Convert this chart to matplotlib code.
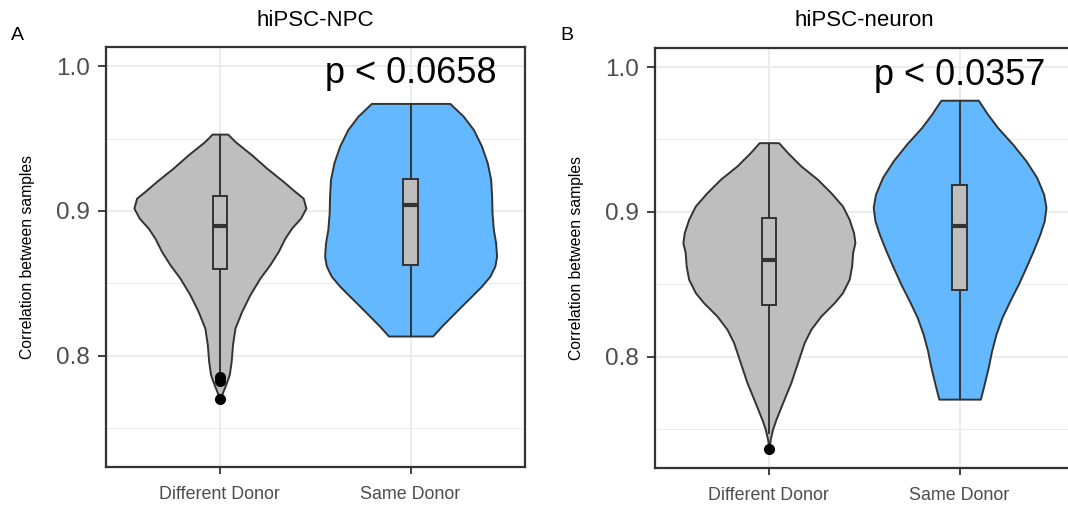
import matplotlib
matplotlib.use("Agg")
import matplotlib.pyplot as plt
from matplotlib.patches import Rectangle

plt.rcParams['font.family'] = ['Liberation Sans', 'DejaVu Sans']

# Categories and labels
CATEGORIES = ["Different Donor", "Same Donor"]
PANEL_TITLES = ["hiPSC-NPC", "hiPSC-neuron"]
PANEL_TAGS = ["A", "B"]
P_LABELS = ["p < 0.0658", "p < 0.0357"]
Y_TICKS = [0.8, 0.9, 1.0]
Y_MINOR = [0.75, 0.85, 0.95]

# Violin outlines: correlation value, half width (x units)
NPC_DIFF_Y = [0.7702, 0.7729, 0.7798, 0.7868, 0.7960, 0.8075, 0.8190, 0.8305,
              0.8420, 0.8536, 0.8628, 0.8720, 0.8812, 0.8881, 0.8950, 0.9019,
              0.9088, 0.9135, 0.9204, 0.9296, 0.9388, 0.9480, 0.9531]
NPC_DIFF_W = [0.0, 0.009, 0.030, 0.049, 0.059, 0.066, 0.079, 0.114,
              0.157, 0.210, 0.262, 0.306, 0.341, 0.376, 0.423, 0.451,
              0.437, 0.393, 0.332, 0.245, 0.166, 0.079, 0.041]
NPC_SAME_Y = [0.8135, 0.8204, 0.8273, 0.8342, 0.8411, 0.8480, 0.8549, 0.8619,
              0.8688, 0.8780, 0.8872, 0.8987, 0.9102, 0.9217, 0.9333, 0.9448,
              0.9563, 0.9655, 0.9743]
NPC_SAME_W = [0.116, 0.163, 0.215, 0.267, 0.320, 0.372, 0.416, 0.442,
              0.451, 0.446, 0.434, 0.427, 0.425, 0.420, 0.402, 0.372,
              0.329, 0.276, 0.206]
NEU_DIFF_Y = [0.7368, 0.7432, 0.7501, 0.7570, 0.7685, 0.7823, 0.7961, 0.8099,
              0.8191, 0.8283, 0.8375, 0.8444, 0.8536, 0.8628, 0.8720, 0.8788,
              0.8857, 0.8949, 0.9041, 0.9133, 0.9225, 0.9317, 0.9409, 0.9478]
NEU_DIFF_W = [0.0, 0.007, 0.019, 0.037, 0.072, 0.115, 0.150, 0.185,
              0.220, 0.273, 0.343, 0.386, 0.421, 0.434, 0.439, 0.451,
              0.444, 0.421, 0.386, 0.325, 0.255, 0.168, 0.098, 0.051]
NEU_SAME_Y = [0.7709, 0.7812, 0.7927, 0.8043, 0.8157, 0.8272, 0.8388, 0.8502,
              0.8618, 0.8732, 0.8847, 0.8940, 0.9032, 0.9123, 0.9239, 0.9353,
              0.9468, 0.9583, 0.9674, 0.9771]
NEU_SAME_W = [0.109, 0.129, 0.150, 0.168, 0.191, 0.222, 0.264, 0.308,
              0.348, 0.386, 0.421, 0.444, 0.453, 0.441, 0.404, 0.348,
              0.278, 0.199, 0.147, 0.098]

# Box stats: lower whisker, Q1, median, Q3, upper whisker
NPC_DIFF_BOX = [0.7870, 0.8600, 0.8893, 0.9100, 0.9531]
NPC_SAME_BOX = [0.8135, 0.8625, 0.9038, 0.9222, 0.9743]
NEU_DIFF_BOX = [0.7470, 0.8359, 0.8669, 0.8961, 0.9478]
NEU_SAME_BOX = [0.7709, 0.8463, 0.8904, 0.9187, 0.9771]

NPC_DIFF_OUT = [0.7849, 0.7826, 0.7702]
NEU_DIFF_OUT = [0.7368]

FILLS = ["#BEBEBE", "#63B8FF"]
EDGE = "#333333"


def draw_panel(ax, violins, boxes, outliers, ylim, p_label, p_y):
    ax.set_xlim(-0.6, 1.6)
    ax.set_ylim(*ylim)
    ax.set_yticks(Y_TICKS)
    ax.set_yticks(Y_MINOR, minor=True)
    ax.set_xticks([0, 1])
    ax.set_xticklabels(CATEGORIES)
    ax.grid(True, which='major', color="#EBEBEB", linewidth=1.3, zorder=0)
    ax.grid(True, which='minor', axis='y', color="#EBEBEB", linewidth=0.7, zorder=0)
    ax.set_axisbelow(True)
    ax.tick_params(axis='y', which='major', labelsize=17.5, labelcolor="#4D4D4D",
                   color=EDGE, length=5.5, width=1.3, pad=6)
    ax.tick_params(axis='x', which='major', labelsize=12.9, labelcolor="#4D4D4D",
                   color=EDGE, length=5, width=1.3, pad=9)
    ax.tick_params(which='minor', length=0)
    for s in ax.spines.values():
        s.set_color(EDGE)
        s.set_linewidth(1.6)

    for i, (ys, ws) in enumerate(violins):
        left = [i - w for w in ws]
        right = [i + w for w in ws]
        ax.fill_betweenx(ys, left, right, facecolor=FILLS[i], edgecolor=EDGE,
                         linewidth=1.4, zorder=2)

    bw = 0.075
    for i, (lo, q1, med, q3, hi) in enumerate(boxes):
        ax.vlines(i, q3, hi, color=EDGE, linewidth=1.4, zorder=3)
        ax.vlines(i, lo, q1, color=EDGE, linewidth=1.4, zorder=3)
        ax.add_patch(Rectangle((i - bw / 2, q1), bw, q3 - q1, facecolor="#BEBEBE",
                               edgecolor=EDGE, linewidth=1.4, zorder=4))
        ax.hlines(med, i - bw / 2, i + bw / 2, color=EDGE, linewidth=3, zorder=5)

    ax.plot([0] * len(outliers), outliers, 'o', color='black', markersize=7,
            zorder=6, clip_on=False)

    ax.set_ylabel("Correlation between samples", fontsize=11.3, color='black')
    ax.yaxis.set_label_coords(-0.169, 0.5)
    ax.text(1, p_y, p_label, fontsize=26, ha='center', va='baseline', color='black')


W, H = 1068, 507
fig = plt.figure(figsize=(W / 100, H / 100), dpi=100)
ax_a = fig.add_axes([105.5 / W, 1 - 466.5 / H, 419.5 / W, 419.2 / H])
ax_b = fig.add_axes([654.5 / W, 1 - 468 / H, 419.5 / W, 419.7 / H])

draw_panel(ax_a, [(NPC_DIFF_Y, NPC_DIFF_W), (NPC_SAME_Y, NPC_SAME_W)],
           [NPC_DIFF_BOX, NPC_SAME_BOX], NPC_DIFF_OUT, (0.7233, 1.0131),
           P_LABELS[0], 0.9883)
draw_panel(ax_b, [(NEU_DIFF_Y, NEU_DIFF_W), (NEU_SAME_Y, NEU_SAME_W)],
           [NEU_DIFF_BOX, NEU_SAME_BOX], NEU_DIFF_OUT, (0.7234, 1.0129),
           P_LABELS[1], 0.9876)

fig.text(315.3 / W, 1 - 20 / H, PANEL_TITLES[0], fontsize=16, ha='center', va='center')
fig.text(864 / W, 1 - 20 / H, PANEL_TITLES[1], fontsize=16, ha='center', va='center')
fig.text(17.6 / W, 1 - 36 / H, PANEL_TAGS[0], fontsize=14, ha='center', va='center')
fig.text(566.8 / W, 1 - 36 / H, PANEL_TAGS[1], fontsize=14, ha='center', va='center')

fig.savefig("out.png", dpi=100)
